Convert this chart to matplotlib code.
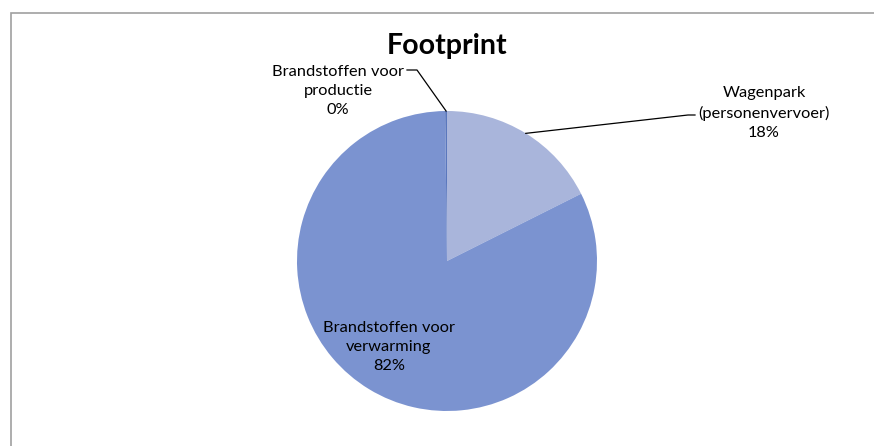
import numpy as np
import matplotlib
matplotlib.use("Agg")
import matplotlib.pyplot as plt
from matplotlib.patches import Rectangle

# data
labels = ["Wagenpark\n(personenvervoer)", "Brandstoffen voor\nverwarming", "Brandstoffen voor\nproductie"]
values = [17.6, 82.2, 0.2]
colors = ["#A9B5DB", "#7B93D0", "#5A77BD"]

W, H = 874, 446
fig = plt.figure(figsize=(W / 100, H / 100), dpi=100)
ax = fig.add_axes([0, 0, 1, 1])
ax.set_xlim(0, W)
ax.set_ylim(0, H)
ax.set_aspect("equal")
ax.axis("off")

plt.rcParams["font.family"] = ["Lato", "DejaVu Sans"]

# chart border (only top and left visible in picture)
ax.add_patch(Rectangle((10.5, -10), W + 20, H - 12.5 + 10, fill=False,
                       edgecolor="#A0A0A0", linewidth=1.2))

cx, cy, r = 447, H - 261, 150
wedges, _ = ax.pie(values, colors=colors, startangle=90, counterclock=False,
                   center=(cx, cy), radius=r, wedgeprops=dict(linewidth=0))
ax.set_xlim(0, W)
ax.set_ylim(0, H)

ax.text(cx, H - 46, "Footprint", ha="center", va="center", fontsize=20.5,
        fontweight="bold", color="black")

pct = [str(int(round(v))) + "%" for v in values]

def edge_point(w):
    mid = np.deg2rad((w.theta1 + w.theta2) / 2)
    return cx + r * np.cos(mid), cy + r * np.sin(mid)

lab_kw = dict(ha="center", va="center", fontsize=11.8, linespacing=1.45)

# Wagenpark label with leader
ex, ey = edge_point(wedges[0])
ax.plot([ex, 688, 695], [ey, H - 115, H - 115], color="black", lw=0.9)
ax.text(764, H - 113, labels[0] + "\n" + pct[0], **lab_kw)

# verwarming label inside
ax.text(389, H - 347, labels[1] + "\n" + pct[1], **lab_kw)

# productie label with leader
ex, ey = edge_point(wedges[2])
ax.plot([ex, 417, 407], [ey, H - 70, H - 70], color="black", lw=0.9)
ax.text(338, H - 91, labels[2] + "\n" + pct[2], **lab_kw)

fig.savefig("out.png", dpi=100)
